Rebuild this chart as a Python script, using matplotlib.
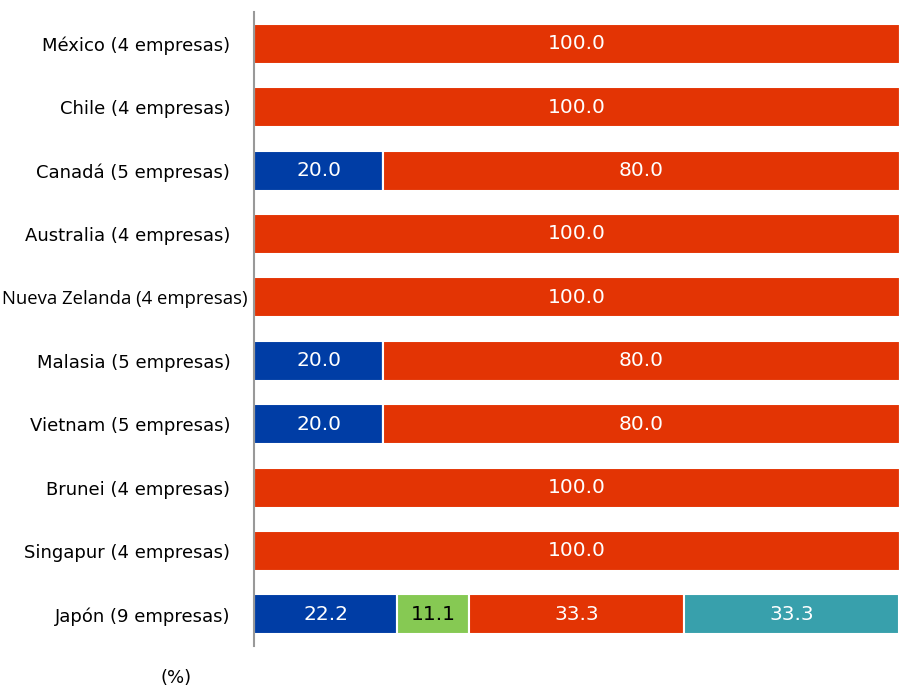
import matplotlib.pyplot as plt
import numpy as np

countries = ["México (4 empresas)", "Chile (4 empresas)", "Canadá (5 empresas)",
             "Australia (4 empresas)", "Nueva Zelanda (4 empresas)",
             "Malasia (5 empresas)", "Vietnam (5 empresas)", "Brunei (4 empresas)",
             "Singapur (4 empresas)", "Japón (9 empresas)"]

blue_vals = [0, 0, 20.0, 0, 0, 20.0, 20.0, 0, 0, 22.2]
green_vals = [0, 0, 0, 0, 0, 0, 0, 0, 0, 11.1]
red_vals = [100.0, 100.0, 80.0, 100.0, 100.0, 80.0, 80.0, 100.0, 100.0, 33.3]
teal_vals = [0, 0, 0, 0, 0, 0, 0, 0, 0, 33.3]

series = [(blue_vals, "#003da5", "white"),
          (green_vals, "#86c953", "black"),
          (red_vals, "#e33404", "white"),
          (teal_vals, "#38a0ac", "white")]

fig = plt.figure(figsize=(9, 6.88), dpi=100)
ax = fig.add_axes([0.2822, 0.061, 0.7178, 0.9215])

y = np.arange(len(countries))
left = np.zeros(len(countries))
for vals, color, tcolor in series:
    vals = np.array(vals)
    ax.barh(y, vals, left=left, height=0.63, color=color, edgecolor="white", linewidth=1.5)
    for i, v in enumerate(vals):
        if v > 0:
            ax.text(left[i] + v / 2, y[i], "%.1f" % v, ha="center", va="center",
                    color=tcolor, fontsize=14.5)
    left += vals

ax.set_xlim(0, 100)
ax.set_ylim(len(countries) - 0.5, -0.5)
ax.set_yticks(y)
labels = [c if c != "Nueva Zelanda (4 empresas)" else "" for c in countries]
ax.set_yticklabels(labels, fontsize=13)
ax.tick_params(axis="y", length=0, pad=17)
ax.set_xticks([])
for s in ["top", "right", "bottom"]:
    ax.spines[s].set_visible(False)
ax.spines["left"].set_color("#999999")
ax.spines["left"].set_linewidth(1.5)

# label drawn in a different font in the original
fig.text(247 / 900, 1 - 299 / 688, "Nueva Zelanda (4 empresas)", ha="right", va="center",
         fontsize=13.3, family="Open Sans")

fig.text(176 / 900, 1 - 678 / 688, "(%)", ha="center", va="center", fontsize=13)

fig.savefig("out.png", dpi=100)
